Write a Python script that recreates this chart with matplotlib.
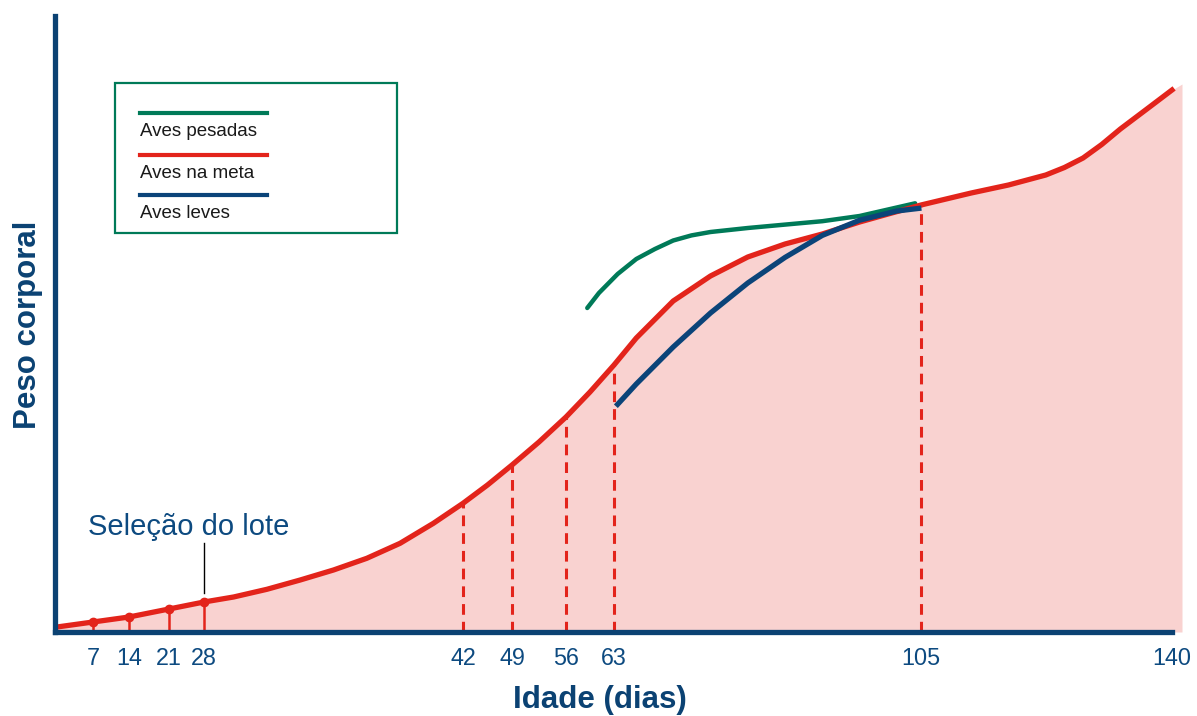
import matplotlib
matplotlib.use("Agg")
import matplotlib.pyplot as plt
import numpy as np
from matplotlib.lines import Line2D
from matplotlib.patches import Rectangle

plt.rcParams['font.family'] = ['Liberation Sans', 'DejaVu Sans']

# growth curves (days, relative body weight)
red_days = [0, 7, 14, 21, 28, 29.6, 31.4, 33.2, 35, 36.8, 38.6, 40.4, 42, 45.5,
            49, 52.5, 56, 59.5, 63, 66.05, 71.1, 76.2, 81.3, 86.4, 91.5, 96.6,
            101, 105, 112, 117.2, 122.4, 125, 127.6, 130.2, 132.8, 136.5, 140]
red_weight = [5, 10, 15, 23, 30, 35, 42.7, 52, 62, 73.7, 88.7, 108.7, 128.7, 147,
              167, 190, 215, 240, 267, 294, 331, 356, 375, 388, 398, 410,
              419, 427, 439, 447, 457, 464.5, 474, 487.5, 503, 523, 542]

green_days = [59.1, 60.8, 63.5, 66.05, 68.6, 71.1, 73.6, 76.2, 81.3, 86.4, 91.5, 96.6, 104.2]
green_weight = [324, 339, 358, 373, 383, 391.5, 396.6, 400, 404, 407.4, 410.8, 416, 428.7]

blue_days = [63.5, 66.05, 71.1, 76.2, 81.3, 86.4, 91.5, 96.6, 101.7, 104.7]
blue_weight = [227.7, 248, 285, 319, 349, 374.6, 396.6, 411.8, 421, 423.6]

solid_marks = [7, 14, 21, 28]
dashed_marks = [42, 49, 56, 63, 105]
tick_days = [7, 14, 21, 28, 42, 49, 56, 63, 105, 140]

# the age axis is drawn schematically: uneven spacing between ticks
scale_days = [-7, 0, 7, 14, 21, 28, 42, 49, 56, 63, 105, 140, 147]
scale_pos = [21, 57, 93, 129, 169, 204, 463, 512, 566, 614, 921, 1172, 1222]

RED = '#e3241b'
GREEN = '#007a58'
BLUE = '#0b4479'
NAVY = '#0b4273'
FILL = '#f9d2d0'
TXT = '#0d4a80'

W, H = 1197, 716


def fx(px):
    return px / W


def fy(py):
    return 1 - py / H


def fwd(d):
    return np.interp(d, scale_days, scale_pos)


def inv(p):
    return np.interp(p, scale_pos, scale_days)


fig = plt.figure(figsize=(W / 100, H / 100), dpi=100)
ax = fig.add_axes([fx(55), fy(632), fx(1183) - fx(55), fy(16) - fy(632)])
ax.set_xscale('function', functions=(fwd, inv))
ax.set_xlim(inv(55), inv(1183))
ax.set_ylim(0, 616)

# shaded area under target curve (runs a bit past 140 like the original)
ax.fill_between(red_days + [141.4], red_weight + [548], 0, color=FILL, lw=0, zorder=1)

for d in dashed_marks:
    w = red_weight[red_days.index(d)]
    ax.plot([d, d], [0, w], color=RED, lw=2.2, ls=(0, (3.5, 2.3)), zorder=2)
for d in solid_marks:
    w = red_weight[red_days.index(d)]
    ax.plot([d, d], [0, w], color=RED, lw=1.8, zorder=2)
    ax.plot([d], [w], 'o', color=RED, ms=6, zorder=4)

ax.plot(green_days, green_weight, color=GREEN, lw=3.2, solid_capstyle='round',
        solid_joinstyle='round', zorder=3)
ax.plot(red_days, red_weight, color=RED, lw=3.8, solid_joinstyle='round', zorder=3)
ax.plot(blue_days, blue_weight, color=BLUE, lw=3.8, solid_joinstyle='round', zorder=3)

# selection annotation
ax.plot([28, 28], [39, 89], color='black', lw=1, zorder=3)
ax.text(25.0, 97, 'Seleção do lote', color=TXT, fontsize=21, ha='center', va='baseline')

for s in ['top', 'right']:
    ax.spines[s].set_visible(False)
for s in ['left', 'bottom']:
    ax.spines[s].set_color(NAVY)
    ax.spines[s].set_linewidth(3.8)
    ax.spines[s].set_zorder(5)
ax.spines['bottom'].set_bounds(inv(55), 140)
ax.set_yticks([])
ax.set_xticks(tick_days)
ax.set_xticklabels([str(t) for t in tick_days], color=TXT, fontsize=16.8)
ax.tick_params(axis='x', length=0, pad=11)

fig.text(fx(600), fy(700), 'Idade (dias)', color=NAVY, fontsize=22.5,
         fontweight='bold', ha='center', va='center')
fig.text(fx(28), fy(325), 'Peso corporal', color=NAVY, fontsize=22.5,
         fontweight='bold', ha='center', va='center', rotation=90)

# legend box drawn by hand: swatch line above each label
fig.patches.append(Rectangle((fx(115), fy(233)), fx(397) - fx(115), fy(83) - fy(233),
                             transform=fig.transFigure, fill=False, ec=GREEN, lw=1.6))
legend_items = [('Aves pesadas', GREEN, 113), ('Aves na meta', RED, 155), ('Aves leves', BLUE, 195)]
for label, col, py in legend_items:
    fig.lines.append(Line2D([fx(140), fx(267)], [fy(py), fy(py)], transform=fig.transFigure,
                            color=col, lw=3))
    fig.text(fx(140), fy(py + 19), label, color='#1a1a1a', fontsize=13.5, ha='left', va='center')

fig.savefig('out.png', dpi=100)
